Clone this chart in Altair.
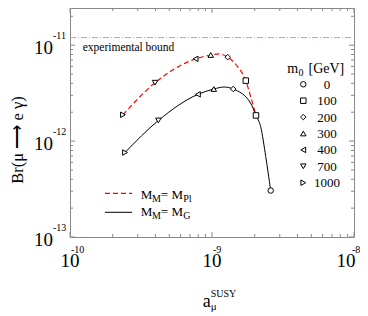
import altair as alt
import pandas as pd

SERIF = "Liberation Serif"
GRAY = "#888888"

# ---- data -----------------------------------------------------------
M0 = ["0", "100", "200", "300", "400", "700", "1000"]
SHAPES = ["circle", "square", "diamond", "triangle-up", "triangle-left", "triangle-down", "triangle-right"]

# M_M = M_Pl markers
PL_M0 = ["1000", "700", "400", "300", "200", "100"]
PL_X = [2.36e-10, 3.97e-10, 7.67e-10, 9.8e-10, 1.29e-9, 1.73e-9]
PL_Y = [1.88e-12, 4.06e-12, 7.2e-12, 7.9e-12, 7.5e-12, 4.27e-12]
# M_M = M_G markers
G_M0 = ["1000", "700", "400", "300", "200", "100", "0"]
G_X = [2.44e-10, 4.19e-10, 7.96e-10, 1.03e-9, 1.41e-9, 2.04e-9, 2.59e-9]
G_Y = [7.6e-13, 1.64e-12, 3.07e-12, 3.49e-12, 3.49e-12, 1.85e-12, 3.05e-13]

# curves
PL_CURVE_X = [2.36e-10, 3.97e-10, 7.67e-10, 9.8e-10, 1.12e-9, 1.29e-9, 1.51e-9, 1.73e-9, 1.87e-9, 2.04e-9]
PL_CURVE_Y = [1.88e-12, 4.06e-12, 7.2e-12, 7.9e-12, 8.1e-12, 7.5e-12, 6.0e-12, 4.27e-12, 2.92e-12, 1.85e-12]
G_CURVE_X = [2.44e-10, 4.19e-10, 7.96e-10, 1.03e-9, 1.22e-9, 1.41e-9, 1.87e-9, 2.04e-9, 2.20e-9, 2.39e-9, 2.59e-9]
G_CURVE_Y = [7.6e-13, 1.64e-12, 3.07e-12, 3.49e-12, 3.66e-12, 3.49e-12, 2.49e-12, 1.85e-12, 1.42e-12, 6.9e-13, 3.05e-13]

EXP_BOUND = 1.2e-11

X_DECADES = [1e-10, 1e-9, 1e-8]
X_EXP = ["-10", "-9", "-8"]
Y_DECADES = [1e-13, 1e-12, 1e-11]
Y_EXP = ["-13", "-12", "-11"]
X_MINOR = [k * d for d in [1e-10, 1e-9] for k in range(2, 10)]
Y_MINOR = [k * d for d in [1e-13, 1e-12] for k in range(2, 10)] + [2e-11]

# ---- layout ---------------------------------------------------------
W, H = 284, 229
xscale = alt.Scale(type="log", domain=[1e-10, 1e-8], nice=False)
yscale = alt.Scale(type="log", domain=[1e-13, 2.44e-11], nice=False)
one = pd.DataFrame({"k": [0]})


def txt(s, x, y, size, align="left", angle=0, baseline="alphabetic", color="black"):
    return alt.Chart(one).mark_text(
        text=s, fontSize=size, font=SERIF, align=align, baseline=baseline,
        angle=angle, color=color
    ).encode(x=alt.value(x), y=alt.value(y))


def xv(field="v"):
    return alt.X(f"{field}:Q", scale=xscale, axis=None)


def yv(field="v"):
    return alt.Y(f"{field}:Q", scale=yscale, axis=None)


layers = []

# ticks (inward, all four sides)
for vals, ln in [(X_DECADES, 5), (X_MINOR, 3)]:
    d = pd.DataFrame({"v": vals})
    layers.append(alt.Chart(d).mark_rule(color=GRAY, strokeWidth=1).encode(
        x=xv(), y=alt.value(H), y2=alt.value(H - ln)))
    layers.append(alt.Chart(d).mark_rule(color=GRAY, strokeWidth=1).encode(
        x=xv(), y=alt.value(0), y2=alt.value(ln)))
for vals, ln in [(Y_DECADES, 5), (Y_MINOR, 3)]:
    d = pd.DataFrame({"v": vals})
    layers.append(alt.Chart(d).mark_rule(color=GRAY, strokeWidth=1).encode(
        y=yv(), x=alt.value(0), x2=alt.value(ln)))
    layers.append(alt.Chart(d).mark_rule(color=GRAY, strokeWidth=1).encode(
        y=yv(), x=alt.value(W), x2=alt.value(W - ln)))

# experimental bound
layers.append(alt.Chart(pd.DataFrame({"v": [EXP_BOUND]})).mark_rule(
    color="#ff70ff", strokeWidth=1, strokeDash=[6, 2, 1, 2]).encode(
    y=yv(), x=alt.value(0), x2=alt.value(281)))
layers.append(txt("experimental bound", 12.7, 43, 11.5))

# curves
pl_curve = pd.DataFrame({"x": PL_CURVE_X, "y": PL_CURVE_Y})
g_curve = pd.DataFrame({"x": G_CURVE_X, "y": G_CURVE_Y})
layers.append(alt.Chart(pl_curve).mark_line(
    color="#ff0000", strokeWidth=1.2, strokeDash=[5, 3], interpolate="monotone").encode(
    x=xv("x"), y=yv("y")))
layers.append(alt.Chart(g_curve).mark_line(
    color="black", strokeWidth=1, interpolate="monotone").encode(
    x=xv("x"), y=yv("y")))

# markers
marks = pd.concat([
    pd.DataFrame({"x": PL_X, "y": PL_Y, "m0": PL_M0}),
    pd.DataFrame({"x": G_X, "y": G_Y, "m0": G_M0}),
])
layers.append(alt.Chart(marks).mark_point(
    filled=True, fill="white", stroke="black", strokeWidth=1, size=30, opacity=1).encode(
    x=xv("x"), y=yv("y"),
    shape=alt.Shape("m0:N", scale=alt.Scale(domain=M0, range=SHAPES), legend=None)))

# axis tick labels
ylab = pd.DataFrame({"v": Y_DECADES, "e": Y_EXP})
layers.append(alt.Chart(ylab).mark_text(
    text="10", font=SERIF, fontSize=19, align="right", baseline="alphabetic", dy=9).encode(
    y=yv(), x=alt.value(-17)))
layers.append(alt.Chart(ylab).mark_text(
    font=SERIF, fontSize=10, align="left", baseline="alphabetic", dy=-6).encode(
    y=yv(), x=alt.value(-17), text="e:N"))

xlab = pd.DataFrame({"v": X_DECADES[:2], "e": X_EXP[:2]})
layers.append(alt.Chart(xlab).mark_text(
    text="10", font=SERIF, fontSize=19, align="center", baseline="alphabetic").encode(
    x=xv(), y=alt.value(259)))
layers.append(alt.Chart(xlab).mark_text(
    font=SERIF, fontSize=10, align="left", baseline="alphabetic", dx=1).encode(
    x=xv(), y=alt.value(245), text="e:N"))
xlab2 = pd.DataFrame({"v": X_DECADES[2:], "e": X_EXP[2:]})
layers.append(alt.Chart(xlab2).mark_text(
    text="10", font=SERIF, fontSize=19, align="center", baseline="alphabetic", dx=-8).encode(
    x=xv(), y=alt.value(259)))
layers.append(alt.Chart(xlab2).mark_text(
    font=SERIF, fontSize=10, align="left", baseline="alphabetic", dx=-2).encode(
    x=xv(), y=alt.value(245), text="e:N"))

# axis titles
layers.append(txt("a", 132.7, 298.7, 18))
layers.append(txt("μ", 140.7, 302, 11))
layers.append(txt("SUSY", 140.7, 288.7, 10))
layers.append(txt("Br(μ ⟶ e γ)", -52, 132, 16.5, align="center", angle=270, baseline="middle"))

# m0 legend
layers.append(txt("m", 217.3, 64.5, 14))
layers.append(txt("0", 228.5, 67.5, 10))
layers.append(txt("[GeV]", 238.5, 64.5, 14))
for i, (lab, shp) in enumerate(zip(M0, SHAPES)):
    yy = 76.3 + i * 16.4
    layers.append(alt.Chart(one).mark_point(
        shape=shp, filled=True, fill="white", stroke="black", strokeWidth=1, size=30, opacity=1).encode(
        x=alt.value(233.3), y=alt.value(yy)))
    layers.append(txt(lab, 257, yy + 4.5, 13, align="center"))

# line legend
layers.append(alt.Chart(one).mark_rule(color="#ff0000", strokeWidth=1.2, strokeDash=[5, 3]).encode(
    x=alt.value(35), x2=alt.value(62), y=alt.value(185.3)))
layers.append(alt.Chart(one).mark_rule(color="black", strokeWidth=1).encode(
    x=alt.value(35), x2=alt.value(62), y=alt.value(204.3)))
for yb, sub in [(191, "Pl"), (207.7, "G")]:
    layers.append(txt("M", 70.7, yb, 13))
    layers.append(txt("M", 82, yb + 3, 10))
    layers.append(txt("=", 90.8, yb, 13))
    layers.append(txt("M", 101.5, yb, 13))
    layers.append(txt(sub, 113.3, yb + 3, 10))

chart = alt.layer(*layers).properties(
    width=W, height=H,
    padding={"left": 62, "top": 0, "right": 6, "bottom": 79},
    autosize=alt.AutoSizeParams(type="none"),
).configure_view(stroke=GRAY, strokeWidth=1)

chart.save("out.html", embed_options={"renderer": "svg", "actions": False})
